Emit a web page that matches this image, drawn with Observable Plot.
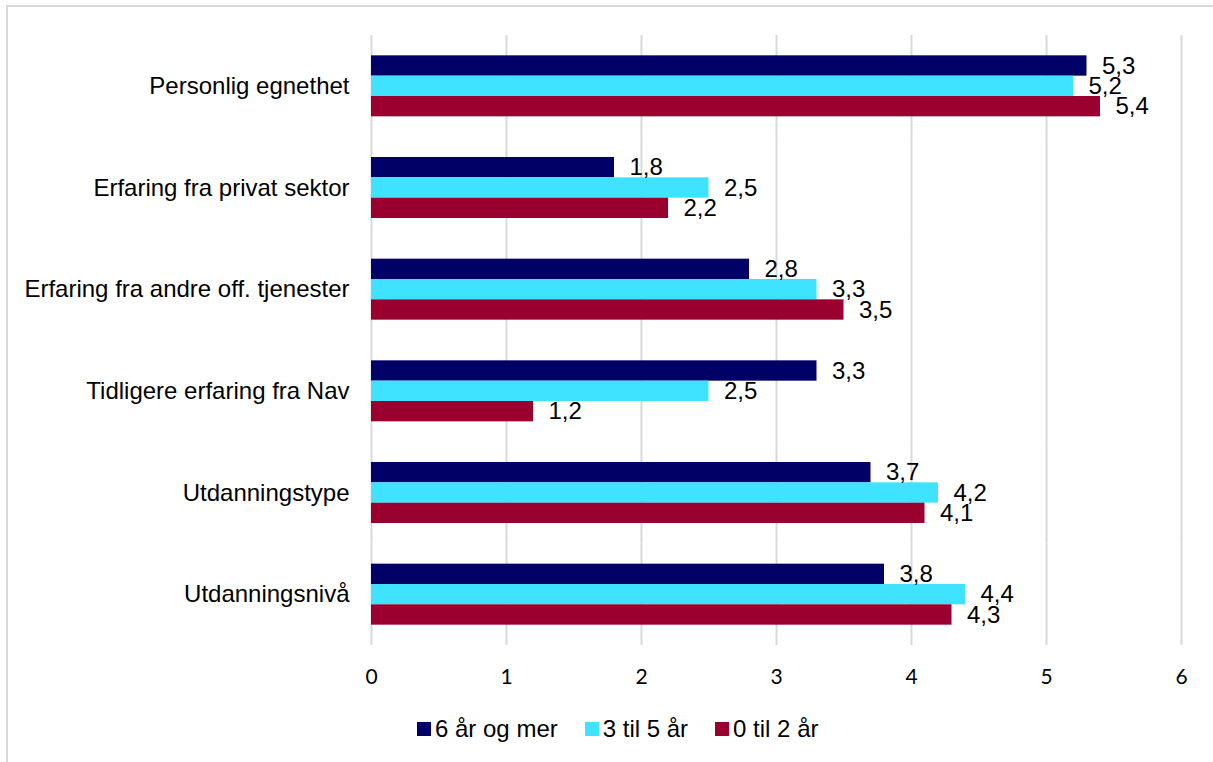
<!DOCTYPE html>
<html>
<head>
<meta charset="utf-8">
<script src="https://cdn.jsdelivr.net/npm/d3@7"></script>
<script src="https://cdn.jsdelivr.net/npm/@observablehq/plot@0.6"></script>
<style>
  html, body { margin: 0; padding: 0; background: #fff; }
  #frame {
    position: absolute; left: 6px; top: 5px; width: 1220px; height: 770px;
    border-left: 2px solid #d9d9d9; border-top: 2px solid #d9d9d9; box-sizing: border-box;
  }
  #chart { position: absolute; left: 0; top: 0; }
  #legend {
    position: absolute; left: 417px; top: 715px; display: flex; align-items: center;
    font-family: "Liberation Sans", Arial, sans-serif; font-size: 24px; color: #000;
  }
  .item { display: flex; align-items: center; margin-right: 27px; }
  .swatch { width: 14px; height: 14px; margin-right: 4px; }
</style>
</head>
<body>
<div id="frame"></div>
<div id="chart"></div>
<div id="legend"></div>
<script>
// Categories, top to bottom
const categories = [
  "Personlig egnethet",
  "Erfaring fra privat sektor",
  "Erfaring fra andre off. tjenester",
  "Tidligere erfaring fra Nav",
  "Utdanningstype",
  "Utdanningsnivå"
];
// Series (seniority groups) and their values per category
const seriesNames = ["6 år og mer", "3 til 5 år", "0 til 2 år"];
const values6plus = [5.3, 1.8, 2.8, 3.3, 3.7, 3.8];
const values3to5 = [5.2, 2.5, 3.3, 2.5, 4.2, 4.4];
const values0to2 = [5.4, 2.2, 3.5, 1.2, 4.1, 4.3];
const xTicks = [0, 1, 2, 3, 4, 5, 6];
const colors = ["#000066", "#3fe3ff", "#990030"];

const seriesValues = [values6plus, values3to5, values0to2];
const data = [];
categories.forEach((cat, i) => {
  seriesNames.forEach((s, j) => data.push({cat, series: s, value: seriesValues[j][i]}));
});
const fmt = v => v.toFixed(1).replace(".", ",");

const chart = Plot.plot({
  width: 1213,
  height: 700,
  marginLeft: 371,
  marginRight: 32,
  marginTop: 35,
  marginBottom: 55,
  style: {fontFamily: "'Liberation Sans', Arial, sans-serif", background: "transparent"},
  x: {domain: [0, 6]},
  y: {domain: seriesNames, paddingInner: 0, paddingOuter: 1.0, round: false, axis: null},
  fy: {domain: categories, padding: 0, round: false, label: null},
  color: {domain: seriesNames, range: colors},
  marks: [
    Plot.gridX(xTicks, {stroke: "#d9d9d9", strokeOpacity: 1, strokeWidth: 2}),
    Plot.barX(data, {x: "value", y: "series", fy: "cat", fill: "series"}),
    Plot.text(data, {
      x: "value", y: "series", fy: "cat", text: d => fmt(d.value),
      dx: 15, textAnchor: "start", fontSize: 24, fill: "#000"
    }),
    Plot.axisFy({anchor: "left", tickSize: 0, tickPadding: 22, fontSize: 24, label: null}),
    Plot.axisX({ticks: xTicks, tickSize: 0, tickPadding: 24, fontSize: 21,
      fontFamily: "Lato, 'Open Sans', sans-serif", tickFormat: d => String(d), label: null})
  ]
});
document.getElementById("chart").appendChild(chart);

// Legend
const legend = document.getElementById("legend");
seriesNames.forEach((s, i) => {
  const item = document.createElement("div");
  item.className = "item";
  const sw = document.createElement("div");
  sw.className = "swatch";
  sw.style.background = colors[i];
  const t = document.createElement("span");
  t.textContent = s;
  item.appendChild(sw);
  item.appendChild(t);
  legend.appendChild(item);
});
</script>
</body>
</html>
